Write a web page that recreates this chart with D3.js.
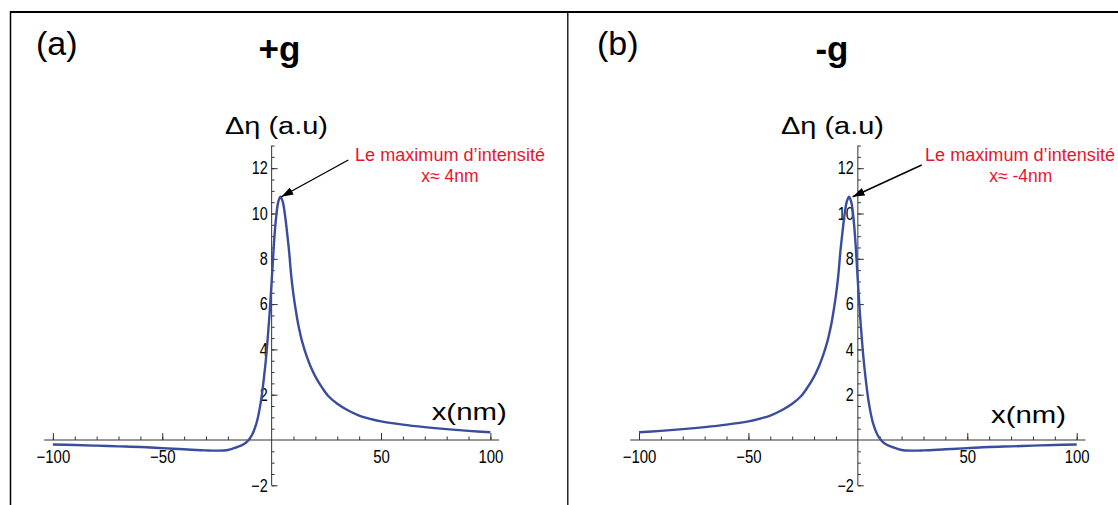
<!DOCTYPE html>
<html>
<head>
<meta charset="utf-8">
<script src="https://cdn.jsdelivr.net/npm/d3@7"></script>
<style>
html,body{margin:0;padding:0;background:#fff;}
svg{display:block;}
text{font-family:"Liberation Sans",Arial,Helvetica,sans-serif;}
</style>
</head>
<body>
<svg id="chart" width="1118" height="505"></svg>
<script>
// ---- data ----
const panelLabels = ["(a)", "(b)"];
const panelTitles = ["+g", "-g"];
const yAxisTitle = "Δη (a.u)";
const xAxisTitle = "x(nm)";
const annotLine1 = "Le maximum d’intensité";
const annotLine2 = ["x≈ 4nm", "x≈ -4nm"];
const peakX = [4.2, -4.2];
const peakY = [10.74, 10.74];
const xMajorTicks = [-100, -50, 50, 100];
const xMinorTicks = [-100,-90,-80,-70,-60,-50,-40,-30,-20,-10,10,20,30,40,50,60,70,80,90,100];
const yMajorTicks = [-2, 2, 4, 6, 8, 10, 12];
const yMinorTicks = [-2,-1.5,-1,-0.5,0.5,1,1.5,2,2.5,3,3.5,4,4.5,5,5.5,6,6.5,7,7.5,8,8.5,9,9.5,10,10.5,11,11.5,12,12.5,13];

const xsA = [-100,-90,-80,-70,-60,-50,-40,-30,-25,-20,-16,-13,-11,-9,-7,-5,-3,-2,-1,0,1,2,3,4,5,6,7,8,9,10,11,12,13,14,16,18,20,23,26,30,35,40,45,50,60,70,80,90,100];
const ysA = [-0.2,-0.22,-0.25,-0.28,-0.31,-0.36,-0.41,-0.46,-0.47,-0.44,-0.32,-0.2,-0.05,0.22,0.72,1.65,3.2,4.25,5.5,7.0,8.6,9.8,10.5,10.74,10.55,10.0,9.2,8.3,7.2,6.4,5.75,5.18,4.72,4.32,3.7,3.2,2.8,2.32,1.93,1.6,1.3,1.08,0.935,0.825,0.68,0.57,0.48,0.405,0.34];

const xsB = [-100,-90,-80,-70,-60,-50,-45,-40,-35,-30,-26,-23,-20,-18,-16,-14,-13,-12,-11,-10,-9,-8,-7,-6,-5,-4,-3,-2,-1,0,1,2,3,5,7,9,11,13,16,20,25,30,40,50,60,70,80,90,100];
const ysB = [0.34,0.405,0.48,0.57,0.68,0.825,0.935,1.08,1.3,1.6,1.93,2.32,2.8,3.2,3.7,4.32,4.72,5.18,5.75,6.4,7.2,8.3,9.2,10.0,10.55,10.74,10.5,9.8,8.6,7.0,5.5,4.25,3.2,1.65,0.72,0.22,-0.05,-0.2,-0.32,-0.44,-0.47,-0.46,-0.41,-0.36,-0.31,-0.28,-0.25,-0.22,-0.2];

// ---- layout ----
const svg = d3.select("#chart");
const curveColor = "#3a4c9e";
const axisColor = "#333";
const red = "#e8142c";

svg.append("defs").append("marker")
  .attr("id","arrow").attr("viewBox","0 0 12 8")
  .attr("refX",12).attr("refY",4)
  .attr("markerWidth",12).attr("markerHeight",8)
  .attr("markerUnits","userSpaceOnUse")
  .attr("orient","auto")
  .append("path").attr("d","M0,0 L12,4 L0,8 Z").attr("fill","#000");

// frame
svg.append("line").attr("x1",10).attr("x2",1118).attr("y1",12).attr("y2",12).attr("stroke","#000").attr("stroke-width",2);
svg.append("line").attr("x1",10.5).attr("x2",10.5).attr("y1",11).attr("y2",505).attr("stroke","#000").attr("stroke-width",1.5);
svg.append("line").attr("x1",567.8).attr("x2",567.8).attr("y1",11).attr("y2",505).attr("stroke","#000").attr("stroke-width",1.3);

const panels = [
  {xs: xsA, ys: ysA, xr: [52.9, 490.4], lab: [36, 55], title: [279.5, 61],
   yt: [225, 134], xt: [431.7, 420], a1: [355, 160.5], a2: [450, 181.5], arrowFrom: [348.3, 160]},
  {xs: xsB, ys: ysB, xr: [639, 1076.7], lab: [597, 55], title: [832, 61],
   yt: [781, 134], xt: [991, 423], a1: [925, 160.5], a2: [1020.8, 181.5], arrowFrom: [921.7, 165]}
];

function narrow(sel, f){
  sel.each(function(){
    const w = this.getComputedTextLength();
    d3.select(this).attr("textLength", w*f).attr("lengthAdjust","spacingAndGlyphs");
  });
}

panels.forEach((p, i) => {
  const x = d3.scaleLinear().domain([-100,100]).range(p.xr);
  const y = d3.scaleLinear().domain([-2,13]).range([440 + 2*22.65, 440 - 13*22.65]);
  const g = svg.append("g");

  // x axis
  const x0 = y(0), y0 = x(0);
  g.append("line").attr("x1",x(-104)).attr("x2",x(104)).attr("y1",x0).attr("y2",x0)
    .attr("stroke",axisColor).attr("stroke-width",1);
  const xMinor = g.append("g").attr("transform",`translate(0,${x0})`)
    .call(d3.axisBottom(x).tickValues(xMinorTicks).tickSizeInner(-3.5).tickSizeOuter(0).tickFormat(""));
  xMinor.select(".domain").remove();
  const xMajor = g.append("g").attr("transform",`translate(0,${x0})`)
    .call(d3.axisBottom(x).tickValues(xMajorTicks).tickSizeInner(-7).tickSizeOuter(0).tickPadding(10));
  xMajor.select(".domain").remove();
  xMajor.selectAll("text").attr("font-size",18).attr("fill","#000")
    .attr("font-family","Liberation Sans, Arial, sans-serif");
  narrow(xMajor.selectAll("text"), 0.83);

  // y axis
  g.append("line").attr("x1",y0).attr("x2",y0).attr("y1",y(-2)).attr("y2",y(13))
    .attr("stroke",axisColor).attr("stroke-width",1);
  const yMinor = g.append("g").attr("transform",`translate(${y0},0)`)
    .call(d3.axisLeft(y).tickValues(yMinorTicks).tickSizeInner(-3).tickSizeOuter(0).tickFormat(""));
  yMinor.select(".domain").remove();
  const yMajor = g.append("g").attr("transform",`translate(${y0},0)`)
    .call(d3.axisLeft(y).tickValues(yMajorTicks).tickSizeInner(-6).tickSizeOuter(0).tickPadding(4));
  yMajor.select(".domain").remove();
  yMajor.selectAll("text").attr("font-size",18).attr("fill","#000")
    .attr("font-family","Liberation Sans, Arial, sans-serif");
  narrow(yMajor.selectAll("text"), 0.8);
  g.selectAll(".tick line").attr("stroke",axisColor);

  // curve
  const pts = p.xs.map((v, k) => [v, p.ys[k]]);
  g.append("path").datum(pts)
    .attr("d", d3.line().x(d => x(d[0])).y(d => y(d[1])).curve(d3.curveCatmullRom.alpha(0.5)))
    .attr("fill","none").attr("stroke",curveColor).attr("stroke-width",2.4)
    .attr("stroke-linejoin","round").attr("stroke-linecap","butt");

  // labels
  svg.append("text").attr("x",p.lab[0]).attr("y",p.lab[1]).attr("font-size",34)
    .attr("fill","#000").text(panelLabels[i]);
  svg.append("text").attr("x",p.title[0]).attr("y",p.title[1]).attr("font-size",35)
    .attr("font-weight","bold").attr("text-anchor","middle").attr("fill","#000").text(panelTitles[i]);
  svg.append("text").attr("x",p.yt[0]).attr("y",p.yt[1]).attr("font-size",23)
    .attr("fill","#000").attr("textLength",103).attr("lengthAdjust","spacingAndGlyphs").text(yAxisTitle);
  svg.append("text").attr("x",p.xt[0]).attr("y",p.xt[1]).attr("font-size",24)
    .attr("fill","#000").attr("textLength",75).attr("lengthAdjust","spacingAndGlyphs").text(xAxisTitle);

  // annotation
  svg.append("text").attr("x",p.a1[0]).attr("y",p.a1[1]).attr("font-size",17.5)
    .attr("fill",red).attr("textLength",190).attr("lengthAdjust","spacingAndGlyphs").text(annotLine1);
  svg.append("text").attr("x",p.a2[0]).attr("y",p.a2[1]).attr("font-size",17.5)
    .attr("fill",red).attr("text-anchor","middle").text(annotLine2[i]);
  svg.append("line")
    .attr("x1",p.arrowFrom[0]).attr("y1",p.arrowFrom[1])
    .attr("x2",x(peakX[i]) + (i===0 ? 0.5 : 4)).attr("y2",y(peakY[i]))
    .attr("stroke","#000").attr("stroke-width",1.4).attr("marker-end","url(#arrow)");
});
</script>
</body>
</html>
